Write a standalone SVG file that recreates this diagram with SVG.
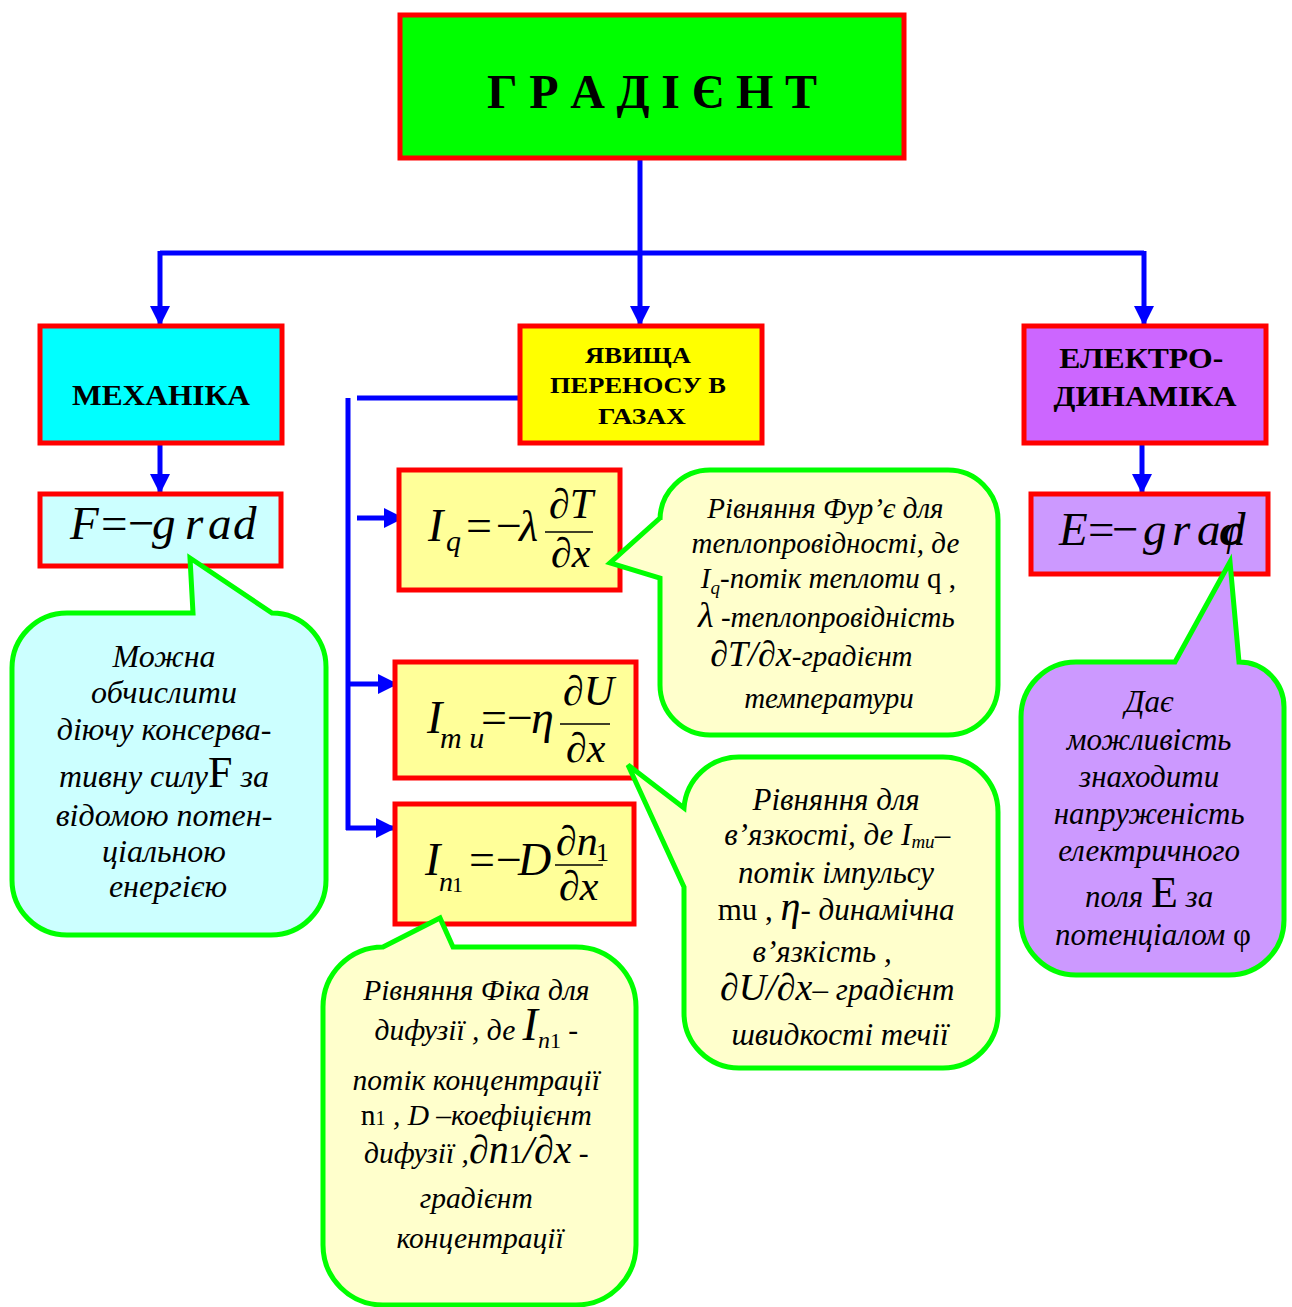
<svg xmlns="http://www.w3.org/2000/svg" width="1292" height="1307" viewBox="0 0 1292 1307">
  <defs>
    <marker id="arrow" viewBox="0 0 10 10" refX="9" refY="5" markerWidth="4" markerHeight="4" markerUnits="strokeWidth" orient="auto">
      <path d="M0,0 L10,5 L0,10 Z" fill="#0000FF"/>
    </marker>
    <style>
      .box { stroke: #FF0000; stroke-width: 5; }
      .call { stroke: #00FF00; stroke-width: 5; stroke-linejoin: miter; }
      .wire { fill: none; stroke: #0000FF; stroke-width: 5; }
      .head { font-family: "Liberation Serif", "Times New Roman", serif; font-weight: bold; fill: #000; text-anchor: middle; }
      .note { font-family: "Liberation Serif", "Times New Roman", serif; font-style: italic; fill: #000; text-anchor: middle; }
      .math { font-family: "Liberation Serif", "Times New Roman", serif; font-style: italic; fill: #000; }
      .up { font-style: normal; }
      .bar { stroke: #000; stroke-width: 1.6; }
    </style>
  </defs>
  <rect width="1292" height="1307" fill="#FFFFFF"/>

  <!-- connectors -->
  <g id="connectors">
    <path class="wire" d="M640,158 V253"/>
    <path class="wire" d="M160,253 H1144"/>
    <path class="wire" d="M160,251 V324" marker-end="url(#arrow)"/>
    <path class="wire" d="M640,253 V324" marker-end="url(#arrow)"/>
    <path class="wire" d="M1144,251 V324" marker-end="url(#arrow)"/>
    <path class="wire" d="M160,443 V492" marker-end="url(#arrow)"/>
    <path class="wire" d="M1142,443 V492" marker-end="url(#arrow)"/>
    <path class="wire" d="M357,398 H520"/>
    <path class="wire" d="M348,398 V830"/>
    <path class="wire" d="M357,518 H402" marker-end="url(#arrow)"/>
    <path class="wire" d="M346,684 H396" marker-end="url(#arrow)"/>
    <path class="wire" d="M346,828 H394" marker-end="url(#arrow)"/>
  </g>

  <!-- root -->
  <g id="gradient">
    <rect class="box" x="400" y="15" width="504" height="143" fill="#00FF00"/>
    <text class="head" x="652" y="108" font-size="48" textLength="330" lengthAdjust="spacing">Г Р А Д І Є Н Т</text>
  </g>

  <!-- branches -->
  <g id="mechanics">
    <rect class="box" x="40" y="326" width="242" height="117" fill="#00FFFF"/>
    <text class="head" x="161" y="405" font-size="29" textLength="178" lengthAdjust="spacingAndGlyphs">МЕХАНІКА</text>
  </g>
  <g id="transport">
    <rect class="box" x="520" y="326" width="242" height="117" fill="#FFFF00"/>
    <text class="head" font-size="24">
      <tspan x="641" y="363" textLength="106" lengthAdjust="spacingAndGlyphs">ЯВИЩА</tspan>
      <tspan x="641" y="393" textLength="176" lengthAdjust="spacingAndGlyphs">ПЕРЕНОСУ В</tspan>
      <tspan x="642" y="424" textLength="88" lengthAdjust="spacingAndGlyphs">ГАЗАХ</tspan>
    </text>
  </g>
  <g id="electrodynamics">
    <rect class="box" x="1024" y="326" width="242" height="117" fill="#CC66FF"/>
    <text class="head" font-size="30">
      <tspan x="1145" y="368" textLength="164" lengthAdjust="spacingAndGlyphs">ЕЛЕКТРО-</tspan>
      <tspan x="1145" y="406" textLength="183" lengthAdjust="spacingAndGlyphs">ДИНАМІКА</tspan>
    </text>
  </g>

  <!-- force formula -->
  <g id="force" class="math" font-size="47">
    <rect class="box" x="40" y="494" width="241" height="72" fill="#CCFFFF"/>
    <text x="70" y="539">F</text>
    <text class="up" x="101" y="539">=</text>
    <text class="up" x="128" y="539">−</text>
    <text x="152" y="539">g</text>
    <text x="185" y="539">r</text>
    <text x="208" y="539">a</text>
    <text x="233" y="539">d</text>
  </g>

  <!-- field formula -->
  <g id="field" class="math" font-size="47">
    <rect class="box" x="1031" y="494" width="237" height="80" fill="#CC99FF"/>
    <text x="1059" y="545">E</text>
    <text class="up" x="1088" y="545">=</text>
    <text class="up" x="1112" y="545">−</text>
    <text x="1143" y="545">g</text>
    <text x="1172" y="545">r</text>
    <text x="1197" y="545">a</text>
    <text x="1222" y="545">d</text>
    <text x="1219" y="545" font-size="44">φ</text>
  </g>

  <!-- heat flux -->
  <g id="heat">
    <rect class="box" x="399" y="470" width="221" height="120" fill="#FFFF99"/>
    <text class="math" x="428" y="541" font-size="46">I</text>
    <text class="math" x="446" y="551" font-size="30">q</text>
    <text class="math up" x="466" y="541" font-size="46">=</text>
    <text class="math up" x="496" y="541" font-size="46">−</text>
    <text class="math" x="519" y="541" font-size="44">λ</text>
    <line class="bar" x1="545" y1="532" x2="593" y2="532"/>
    <text class="math" x="549" y="518" font-size="42">∂T</text>
    <text class="math" x="551" y="567" font-size="42">∂x</text>
  </g>

  <!-- momentum flux -->
  <g id="momentum">
    <rect class="box" x="395" y="662" width="241" height="116" fill="#FFFF99"/>
    <text class="math" x="427" y="733" font-size="46">I</text>
    <text class="math" x="440" y="748" font-size="30">m u</text>
    <text class="math up" x="481" y="733" font-size="46">=</text>
    <text class="math up" x="507" y="733" font-size="46">−</text>
    <text class="math" x="531" y="733" font-size="46">η</text>
    <line class="bar" x1="560" y1="724" x2="610" y2="724"/>
    <text class="math" x="563" y="705" font-size="42">∂U</text>
    <text class="math" x="566" y="762" font-size="42">∂x</text>
  </g>

  <!-- particle flux -->
  <g id="diffusion">
    <rect class="box" x="395" y="804" width="239" height="120" fill="#FFFF99"/>
    <text class="math" x="425" y="875" font-size="46">I</text>
    <text class="math" x="439" y="891" font-size="28">n</text>
    <text class="math up" x="452" y="892" font-size="22">1</text>
    <text class="math up" x="469" y="875" font-size="46">=</text>
    <text class="math up" x="496" y="875" font-size="46">−</text>
    <text class="math" x="518" y="875" font-size="46">D</text>
    <line class="bar" x1="555" y1="865" x2="603" y2="865"/>
    <text class="math" x="556" y="855" font-size="42">∂n</text>
    <text class="math up" x="596" y="861" font-size="26">1</text>
    <text class="math" x="559" y="900" font-size="42">∂x</text>
  </g>

  <!-- callout: mechanics -->
  <g id="note-mechanics">
    <path class="call" fill="#CCFFFF" d="M67,613 H193 L190,558 L272,613 A54,54 0 0 1 326,667 V880 A55,55 0 0 1 271,935 H67 A55,55 0 0 1 12,880 V668 A55,55 0 0 1 67,613 Z"/>
    <text class="note" font-size="32">
      <tspan x="168" y="667">Можна</tspan>
      <tspan x="168" y="703">обчислити</tspan>
      <tspan x="168" y="740">діючу консерва-</tspan>
      <tspan x="168" y="787">тивну силу<tspan class="up" font-size="44">F</tspan> за</tspan>
      <tspan x="168" y="826">відомою потен-</tspan>
      <tspan x="168" y="862">ціальною</tspan>
      <tspan x="168" y="897">енергією</tspan>
    </text>
  </g>

  <!-- callout: heat conduction -->
  <g id="note-heat">
    <path class="call" fill="#FFFFCC" d="M710,470 H948 A50,50 0 0 1 998,520 V685 A50,50 0 0 1 948,735 H710 A50,50 0 0 1 660,685 V578 L610,563 L660,518 V520 A50,50 0 0 1 710,470 Z"/>
    <text class="note" font-size="29">
      <tspan x="829" y="518">Рівняння Фур’є  для</tspan>
      <tspan x="829" y="553">теплопровідності, де</tspan>
      <tspan x="832" y="588">I<tspan font-size="19" dy="6">q</tspan><tspan dy="-6">-потік теплоти </tspan><tspan class="up">q ,</tspan></tspan>
      <tspan x="830" y="627"><tspan font-size="36">λ</tspan> -теплопровідність</tspan>
      <tspan x="815" y="666"><tspan font-size="36">∂T/∂x</tspan>-градієнт</tspan>
      <tspan x="829" y="708">температури</tspan>
    </text>
  </g>

  <!-- callout: viscosity -->
  <g id="note-viscosity">
    <path class="call" fill="#FFFFCC" d="M739,757 H943 A55,55 0 0 1 998,812 V1013 A55,55 0 0 1 943,1068 H739 A55,55 0 0 1 684,1013 V887 L628,765 L684,808 A55,55 0 0 1 739,757 Z"/>
    <text class="note" font-size="31">
      <tspan x="840" y="810">Рівняння для</tspan>
      <tspan x="841" y="845">в’язкості, де I<tspan font-size="19" dy="3">mu</tspan><tspan dy="-3">–</tspan></tspan>
      <tspan x="840" y="883">потік імпульсу</tspan>
      <tspan x="840" y="920"><tspan class="up">mu , </tspan><tspan font-size="40">η</tspan>- динамічна</tspan>
      <tspan x="826" y="962">в’язкість ,</tspan>
      <tspan x="841" y="1000"><tspan font-size="38">∂U/∂x</tspan>– градієнт</tspan>
      <tspan x="840" y="1045">швидкості течії</tspan>
    </text>
  </g>

  <!-- callout: diffusion -->
  <g id="note-diffusion">
    <path class="call" fill="#FFFFCC" d="M323,1007 A60,60 0 0 1 383,947 L440,918 L453,947 H576 A60,60 0 0 1 636,1007 V1245 A60,60 0 0 1 576,1305 H383 A60,60 0 0 1 323,1245 Z"/>
    <text class="note" font-size="29.5">
      <tspan x="480" y="1000">Рівняння Фіка для</tspan>
      <tspan x="480" y="1040">дифузії , де <tspan font-size="46">I</tspan><tspan font-size="24" dy="8">n</tspan><tspan class="up" font-size="22">1</tspan><tspan dy="-8"> -</tspan></tspan>
      <tspan x="480" y="1090">потік концентрації</tspan>
      <tspan x="480" y="1125"><tspan class="up">n</tspan><tspan class="up" font-size="20">1</tspan> , D –коефіцієнт</tspan>
      <tspan x="480" y="1163">дифузії ,<tspan font-size="40">∂n</tspan><tspan class="up" font-size="28">1</tspan><tspan font-size="40">/∂x</tspan> -</tspan>
      <tspan x="480" y="1208">градієнт</tspan>
      <tspan x="480" y="1248">концентрації</tspan>
    </text>
  </g>

  <!-- callout: electrodynamics -->
  <g id="note-field">
    <path class="call" fill="#CC99FF" d="M1076,662 H1175 L1230,562 L1239,662 A45,45 0 0 1 1284,707 V920 A55,55 0 0 1 1229,975 H1076 A55,55 0 0 1 1021,920 V717 A55,55 0 0 1 1076,662 Z"/>
    <text class="note" font-size="31">
      <tspan x="1153" y="712">Дає</tspan>
      <tspan x="1153" y="750">можливість</tspan>
      <tspan x="1153" y="787">знаходити</tspan>
      <tspan x="1153" y="824">напруженість</tspan>
      <tspan x="1153" y="861">електричного</tspan>
      <tspan x="1153" y="907">поля <tspan class="up" font-size="44">E</tspan> за</tspan>
      <tspan x="1153" y="945">потенціалом <tspan class="up">φ</tspan></tspan>
    </text>
  </g>
</svg>
